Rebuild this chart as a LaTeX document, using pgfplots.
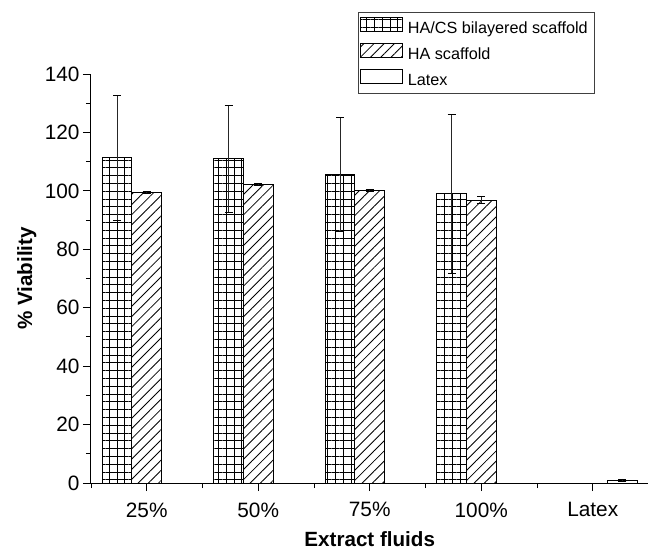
\documentclass[border=0pt]{standalone}
\usepackage{pgfplots}
\pgfplotsset{compat=1.18}
\usepackage{pgfplotstable}
\usepackage{fontspec}
\setmainfont{Liberation Sans}
\usetikzlibrary{patterns.meta}

% Cell viability (%) of the scaffold extracts, mean and standard deviation
\pgfplotstableread{
x hacs hacserr ha haerr
0 111.4 21.4 99.5 0.4
1 111.0 18.3 102.1 0.3
2 105.5 19.5 100.2 0.3
3 99.0 27.2 96.8 1.2
}\viability
\pgfplotstableread{
x latex latexerr
4 1.0 0.4
}\latexcontrol

\pgfplotsset{
  legpatch/.style={legend image code/.code={
    \draw[##1, line width=0.8pt] (0pt,-2.4pt) rectangle (42pt,11.6pt);}},
  sderr/.style={error bars/.cd, y dir=both, y explicit,
    error bar style={line width=0.7pt, black!85},
    error mark options={rotate=90, black, line width=0.7pt, mark size=4pt}},
}

\begin{document}
\begin{tikzpicture}[x=1pt,y=1pt]
\useasboundingbox (-91,-67) rectangle (557,483);
\begin{axis}[
  at={(0,0)}, anchor=south west,
  scale only axis, width=557.5pt, height=409pt,
  xmin=-0.5, xmax=4.5, ymin=0, ymax=140,
  ybar=0pt, bar width=29.7pt,
  axis x line=bottom, axis y line=left,
  axis line style={-, line width=1pt, black},
  xtick={0,1,2,3,4},
  xticklabels={25\%,50\%,75\%,100\%,Latex},
  minor xtick={-0.5,0.5,1.5,2.5,3.5,4.5},
  ytick={0,20,...,140},
  minor ytick={10,30,...,130},
  tick align=outside,
  major tick length=8pt, minor tick length=5pt,
  every tick/.style={black, line width=0.9pt},
  /pgf/number format/assume math mode=true,
  tick label style={font=\fontsize{20.8}{24}\selectfont},
  xticklabel style={yshift=-8pt},
  xlabel={Extract fluids},
  ylabel={\% Viability},
  label style={font=\fontsize{20.6}{24}\selectfont\bfseries},
  xlabel style={at={(axis description cs:0.5,0)}, anchor=base, yshift=-63.5pt},
  ylabel style={at={(axis description cs:-0.115,0.5)}, anchor=center},
  legend style={at={(0.479,1.1523)}, anchor=north west,
    draw=black!75, line width=0.8pt,
    font=\fontsize{16.2}{19}\selectfont,
    inner xsep=1.6pt, inner ysep=5.2pt, row sep=6.35pt, column sep=5pt,
    nodes={inner xsep=0pt, inner ysep=0pt, text height=11.6pt, text depth=3.4pt}},
  legend cell align=left,
  clip=false,
]
\addplot[draw=black, line width=1pt,
  pattern={Hatch[angle=0, distance=7.8pt, line width=0.75pt]},
  legpatch, sderr]
  table[x=x, y=hacs, y error=hacserr] {\viability};
\addlegendentry{HA/CS bilayered scaffold\kern5.4pt}

\addplot[draw=black, line width=0.9pt,
  pattern={Lines[angle=45, distance=7.2pt, line width=0.85pt]},
  legpatch, sderr]
  table[x=x, y=ha, y error=haerr] {\viability};
\addlegendentry{HA scaffold}

\addplot[draw=black, line width=0.9pt, fill=white,
  legpatch, sderr]
  table[x=x, y=latex, y error=latexerr] {\latexcontrol};
\addlegendentry{Latex}
\end{axis}
\end{tikzpicture}
\end{document}
